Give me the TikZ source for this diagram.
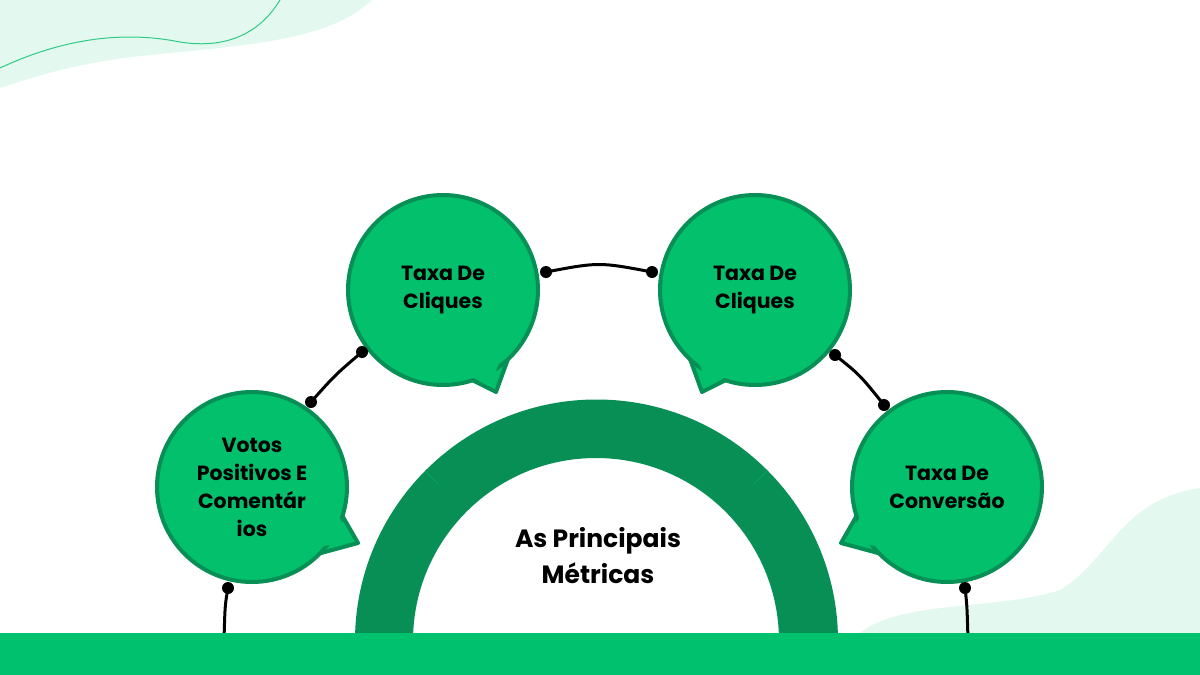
\documentclass[tikz,border=0pt]{standalone}
\usepackage{fontspec}
\setmainfont{Poppins}
\definecolor{mintbg}{HTML}{E3F9EF}
\definecolor{bubblefill}{HTML}{02C06C}
\definecolor{bubbleedge}{HTML}{078F55}
\definecolor{barcolor}{HTML}{00C16E}
\definecolor{wavecolor}{HTML}{2FCB85}
\begin{document}
\begin{tikzpicture}[x=1pt, y=-1pt,
  bubble/.style={circle, fill=bubblefill, draw=bubbleedge, line width=4pt,
    minimum size=190pt, inner sep=0pt, align=center,
    font=\bfseries\fontsize{20.5}{28}\selectfont},
  tailedge/.style={fill=bubblefill, draw=bubbleedge, line width=4pt, line join=round},
  dot/.style={circle, fill=black, minimum size=12pt, inner sep=0pt},
  link/.style={black, line width=3pt}]
  % Canvas
  \useasboundingbox (0,0) rectangle (1200,675);
  \fill[white] (0,0) rectangle (1200,675);

  % Background blobs
  \fill[mintbg] (0,0) -- (372,0) .. controls (330,40) and (250,45) .. (150,55)
    .. controls (80,62) and (40,75) .. (0,88) -- cycle;
  \draw[wavecolor, line width=1pt] (0,68) .. controls (60,40) and (120,30) .. (180,42)
    .. controls (230,50) and (262,30) .. (280,0);
  \fill[mintbg] (860,633) .. controls (900,600) and (1000,610) .. (1060,590)
    .. controls (1110,560) and (1120,500) .. (1200,488) -- (1200,633) -- cycle;

  % Central arc
  \fill[bubbleedge] (355,641) arc[start angle=180, end angle=360, radius=241.5]
    -- (779,641) arc[start angle=360, end angle=180, radius=183] -- cycle;
  \draw[bubblefill!60!bubbleedge, line width=0.6pt] (425,471) -- (438,484);
  \draw[bubblefill!60!bubbleedge, line width=0.6pt] (767,471) -- (754,484);
  \node[font=\bfseries\fontsize{25}{36}\selectfont, align=center] (title)
    at (598,556) {As Principais\\Métricas};

  % Bubble tails (outline)
  \draw[tailedge] (339,510) -- (358,543) -- (310,556);
  \draw[tailedge] (466,377) -- (496,392) -- (512,348);
  \draw[tailedge] (732,377) -- (702,392) -- (686,348);
  \draw[tailedge] (860,510) -- (841,543) -- (889,556);

  % Bubbles
  \node[bubble] (votos) at (252,487) {Votos\\Positivos E\\Comentár\\ios};
  \node[bubble] (cliquesA) at (443,290) {Taxa De\\Cliques};
  \node[bubble] (cliquesB) at (755,290) {Taxa De\\Cliques};
  \node[bubble] (conversao) at (947,487) {Taxa De\\Conversão};

  % Bubble tails (fill over the joint)
  \fill[bubblefill] (333,506) -- (352,540) -- (305,550) -- cycle;
  \fill[bubblefill] (462,372) -- (490,386) -- (506,345) -- cycle;
  \fill[bubblefill] (736,372) -- (708,386) -- (692,345) -- cycle;
  \fill[bubblefill] (866,506) -- (847,540) -- (894,550) -- cycle;

  % Connector dots
  \node[dot] (d1) at (228,588) {};
  \node[dot] (d2) at (311,402) {};
  \node[dot] (d3) at (362,352) {};
  \node[dot] (d4) at (546,272) {};
  \node[dot] (d5) at (652,272) {};
  \node[dot] (d6) at (835,355) {};
  \node[dot] (d7) at (884,405) {};
  \node[dot] (d8) at (965,588) {};
  \coordinate (e1) at (224,640);
  \coordinate (e8) at (968,640);

  % Connectors
  \draw[link] (d1.center) .. controls (225,605) .. (e1);
  \draw[link] (d2.center) .. controls (335,375) .. (d3.center);
  \draw[link] (d4.center) .. controls (599,262) .. (d5.center);
  \draw[link] (d6.center) .. controls (860,375) .. (d7.center);
  \draw[link] (d8.center) .. controls (967,605) .. (e8);

  % Bottom bar
  \fill[barcolor] (0,633) rectangle (1200,675);
\end{tikzpicture}
\end{document}
